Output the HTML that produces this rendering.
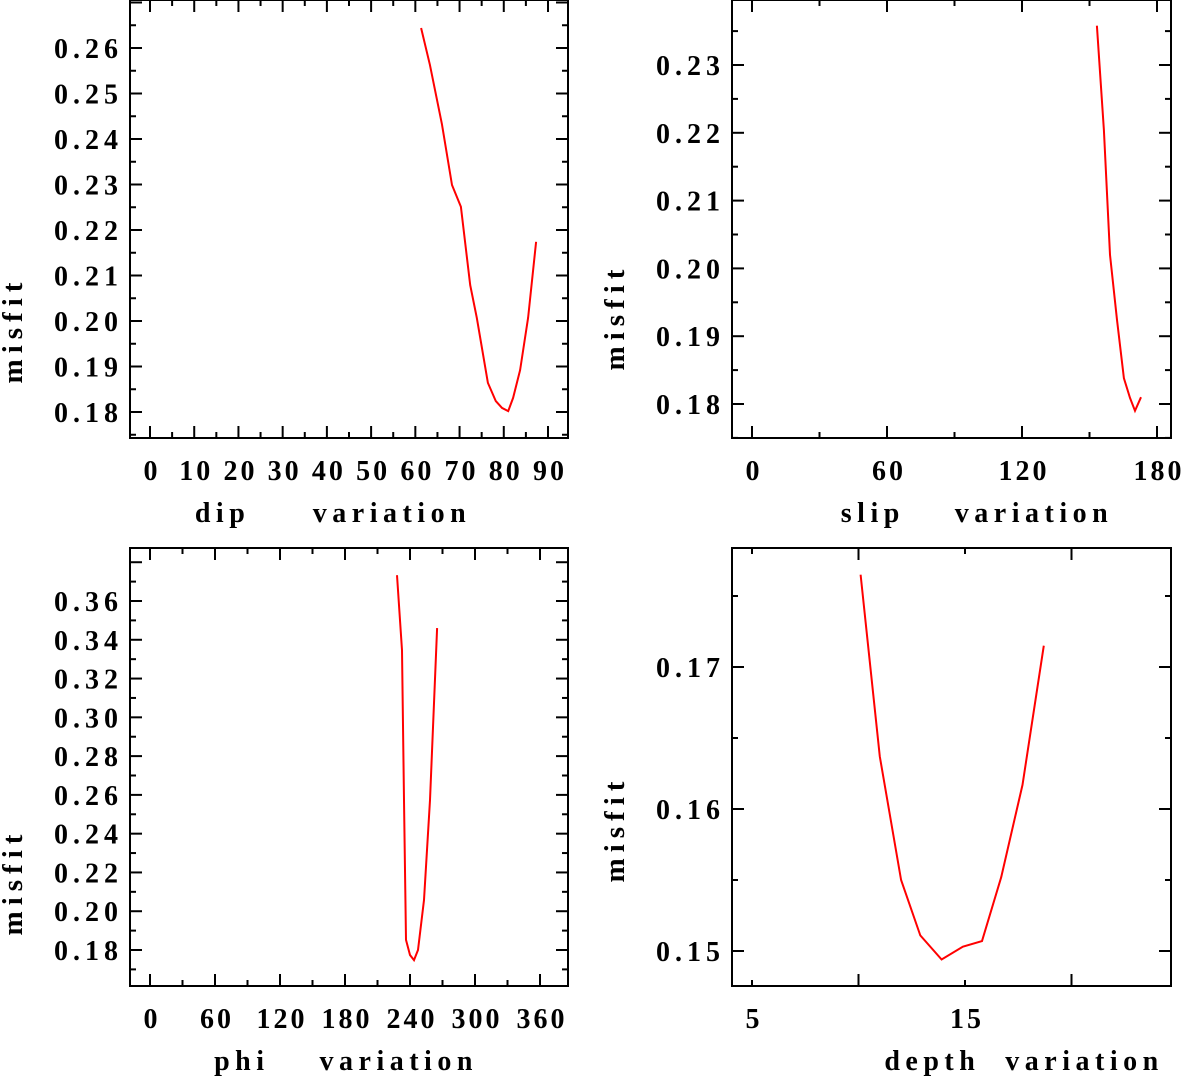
<!DOCTYPE html>
<html><head><meta charset="utf-8"><style>
html,body{margin:0;padding:0;background:#fff;}
svg text{font-family:"Liberation Serif",serif;font-weight:bold;fill:#000;}
</style></head><body>
<svg id="chart" width="1183" height="1076" viewBox="0 0 1183 1076" xmlns="http://www.w3.org/2000/svg"></svg>
<script>
const dipX=[61.3,63.3,66.0,68.3,70.3,72.4,73.9,76.4,78.2,79.6,81.0,82.1,83.7,85.5,87.3];
const dipY=[0.2644,0.2563,0.2433,0.2299,0.2251,0.2079,0.2007,0.1864,0.1824,0.1809,0.1802,0.1831,0.1892,0.2007,0.2174];
const slipX=[153.3,156.4,159.1,162.2,165.3,168.0,170.2,172.9];
const slipY=[0.2358,0.2204,0.2020,0.1924,0.1838,0.1809,0.1790,0.1810];
const phiX=[228,232.6,234.5,236.3,240,243.7,247.4,252.9,258.5,265];
const phiY=[0.3733,0.3346,0.2573,0.1852,0.1774,0.1748,0.18,0.2058,0.2573,0.346];
const depthX=[10.1,11.0,12.0,12.9,13.9,14.9,15.8,16.7,17.7,18.7];
const depthY=[0.1765,0.1637,0.1550,0.1511,0.1494,0.1503,0.1507,0.1552,0.1617,0.1715];
const dipTicks=[0,10,20,30,40,50,60,70,80,90];
const slipTicks=[0,60,120,180];
const phiTicks=[0,60,120,180,240,300,360];
const depthTicks=[5,15];
const dipYTicks=[0.18,0.19,0.20,0.21,0.22,0.23,0.24,0.25,0.26];
const slipYTicks=[0.18,0.19,0.20,0.21,0.22,0.23];
const phiYTicks=[0.18,0.20,0.22,0.24,0.26,0.28,0.30,0.32,0.34,0.36];
const depthYTicks=[0.15,0.16,0.17];

const svg=document.getElementById('chart');
const NS='http://www.w3.org/2000/svg';
function mk(tag,attrs,parent){const e=document.createElementNS(NS,tag);for(const k in attrs)e.setAttribute(k,attrs[k]);(parent||svg).appendChild(e);return e;}

const panels=[
 {name:'dip',f:[130,568,0,438],xa:[0,150,90,548],ya:[0.18,412,0.26,48],xmaj:10,xmin:5,ymaj:0.01,ymin:0.005,xt:dipTicks,yt:dipYTicks,xs:dipX,ys:dipY,xl:'dip     variation',xlx:330,lx:12,ly:333},
 {name:'slip',f:[732,1171,0,438],xa:[0,752,180,1157],ya:[0.18,404,0.23,65],xmaj:60,xmin:30,ymaj:0.01,ymin:0.005,xt:slipTicks,yt:slipYTicks,xs:slipX,ys:slipY,xl:'slip    variation',xlx:974,lx:614,ly:320},
 {name:'phi',f:[130,568,548,986],xa:[0,150,360,540],ya:[0.18,950,0.36,601],xmaj:60,xmin:30,ymaj:0.02,ymin:0.01,xt:phiTicks,yt:phiYTicks,xs:phiX,ys:phiY,xl:'phi    variation',xlx:343,lx:12,ly:885},
 {name:'depth',f:[732,1171,548,986],xa:[5,752,15,965],ya:[0.15,951,0.17,667],xmaj:10,xmin:5,ymaj:0.01,ymin:0.005,xt:depthTicks,yt:depthYTicks,xs:depthX,ys:depthY,xl:'depth  variation',xlx:1021,lx:614,ly:832}
];

panels.forEach(p=>{
 const g=mk('g',{});
 
 
 const [x0,x1,y0,y1]=p.f;
 const sx=v=>p.xa[1]+(v-p.xa[0])*(p.xa[3]-p.xa[1])/(p.xa[2]-p.xa[0]);
 const sy=v=>p.ya[1]+(v-p.ya[0])*(p.ya[3]-p.ya[1])/(p.ya[2]-p.ya[0]);
 const fr=mk('rect',{x:x0,y:y0,width:x1-x0,height:y1-y0,fill:'none',stroke:'#000','stroke-width':2},g);
 
 
 const xlo=Math.ceil(((x0-p.xa[1])/(p.xa[3]-p.xa[1])*(p.xa[2]-p.xa[0])+p.xa[0])/p.xmin);
 for(let k=xlo;;k++){const v=k*p.xmin;const x=sx(v);if(x>x1)break;if(x<x0)continue;
  const major=Math.abs(v/p.xmaj-Math.round(v/p.xmaj))<1e-6;const L=major?12:6;
  mk('line',{x1:x,y1:y1,x2:x,y2:y1-L,stroke:'#000','stroke-width':2},g);
  mk('line',{x1:x,y1:y0,x2:x,y2:y0+L,stroke:'#000','stroke-width':2},g);}
 const ylo=Math.ceil(p.ya[0]/p.ymin-2);
 for(let k=ylo;k<ylo+200;k++){const v=k*p.ymin;const y=sy(v);if(y<y0)break;if(y>y1)continue;
  const r=v/p.ymaj;const major=Math.abs(r-Math.round(r))<1e-6;const L=major?12:6;
  mk('line',{x1:x0,y1:y,x2:x0+L,y2:y,stroke:'#000','stroke-width':2},g);
  mk('line',{x1:x1,y1:y,x2:x1-L,y2:y,stroke:'#000','stroke-width':2},g);}
 p.xt.forEach(v=>{const t=mk('text',{x:sx(v)+2,y:y1+42,'text-anchor':'middle','font-size':28,'letter-spacing':3},g);t.textContent=String(v);
  
  });
 p.yt.forEach(v=>{const t=mk('text',{x:x0-7,y:sy(v)+10,'text-anchor':'end','font-size':28,'letter-spacing':5},g);t.textContent=v.toFixed(2);
  
  });
 const xl=mk('text',{x:p.xlx+3,y:y1+84,'text-anchor':'middle','font-size':28,'letter-spacing':5.5},g);xl.textContent=p.xl;xl.style.whiteSpace='pre';
 
 
 const yl=mk('text',{x:3,y:0,'text-anchor':'middle','font-size':29,'letter-spacing':6,transform:`translate(${p.lx+10},${p.ly}) rotate(-90)`},g);yl.textContent='misfit';
 
 
 const pts=p.xs.map((v,i)=>sx(v).toFixed(1)+','+sy(p.ys[i]).toFixed(1)).join(' ');
 const pl=mk('polyline',{points:pts,fill:'none',stroke:'#ff0000','stroke-width':2},g);
 
 
});
</script>
</body></html>
